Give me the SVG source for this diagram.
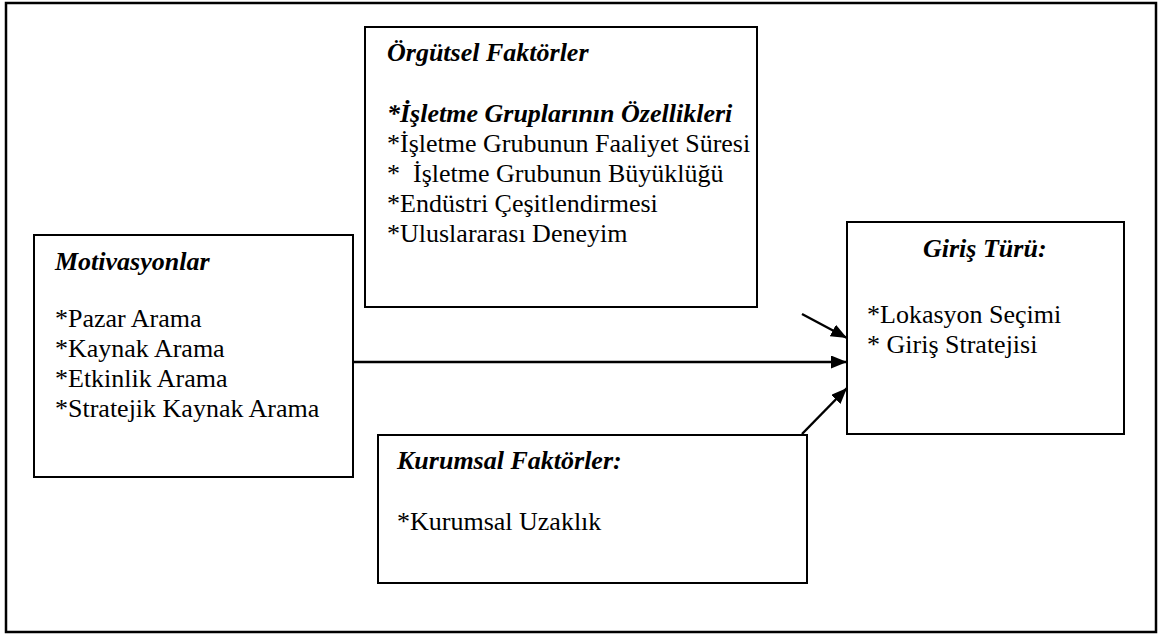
<svg xmlns="http://www.w3.org/2000/svg" width="1161" height="635" viewBox="0 0 1161 635">
<style>
.box{fill:#fff;stroke:#000;stroke-width:2}
.t{font-family:"Liberation Serif","Times New Roman",serif;font-size:26px;fill:#000}
.h{font-weight:bold;font-style:italic}
.c{stroke:#000;stroke-width:2.5;fill:none;marker-end:url(#ah)}
</style>
<defs>
<marker id="ah" markerUnits="userSpaceOnUse" markerWidth="17" markerHeight="14" refX="16" refY="6.5" orient="auto">
<path d="M0,0 L16,6.5 L0,13 z" fill="#000"/>
</marker>
</defs>
<rect x="0" y="0" width="1161" height="635" fill="#fff"/>
<rect id="frame" x="6" y="3" width="1150" height="629" fill="none" stroke="#000" stroke-width="2.5"/>
<g id="orgutsel">
<rect class="box" x="365" y="27" width="392" height="280"/>
<text class="t h" x="387" y="61">Örgütsel Faktörler</text>
<text class="t h" x="387" y="122">*İşletme Gruplarının Özellikleri</text>
<text class="t" x="387" y="152">*İşletme Grubunun Faaliyet Süresi</text>
<text class="t" x="387" y="182" xml:space="preserve">*  İşletme Grubunun Büyüklüğü</text>
<text class="t" x="387" y="212">*Endüstri Çeşitlendirmesi</text>
<text class="t" x="387" y="242">*Uluslararası Deneyim</text>
</g>
<g id="motivasyonlar">
<rect class="box" x="34" y="235" width="319" height="242"/>
<text class="t h" x="55" y="270">Motivasyonlar</text>
<text class="t" x="55" y="327">*Pazar Arama</text>
<text class="t" x="55" y="357">*Kaynak Arama</text>
<text class="t" x="55" y="387">*Etkinlik Arama</text>
<text class="t" x="55" y="417">*Stratejik Kaynak Arama</text>
</g>
<g id="giris">
<rect class="box" x="847" y="222" width="277" height="212"/>
<text class="t h" x="923" y="257">Giriş Türü:</text>
<text class="t" x="867" y="323">*Lokasyon Seçimi</text>
<text class="t" x="867" y="353">* Giriş Stratejisi</text>
</g>
<g id="kurumsal">
<rect class="box" x="378" y="435" width="429" height="148"/>
<text class="t h" x="397" y="469">Kurumsal Faktörler:</text>
<text class="t" x="397" y="530">*Kurumsal Uzaklık</text>
</g>
<g id="connectors">
<line class="c" x1="802" y1="314" x2="847" y2="338"/>
<line class="c" x1="353" y1="362" x2="847" y2="362"/>
<line class="c" x1="802" y1="434" x2="847" y2="388"/>
</g>
</svg>
